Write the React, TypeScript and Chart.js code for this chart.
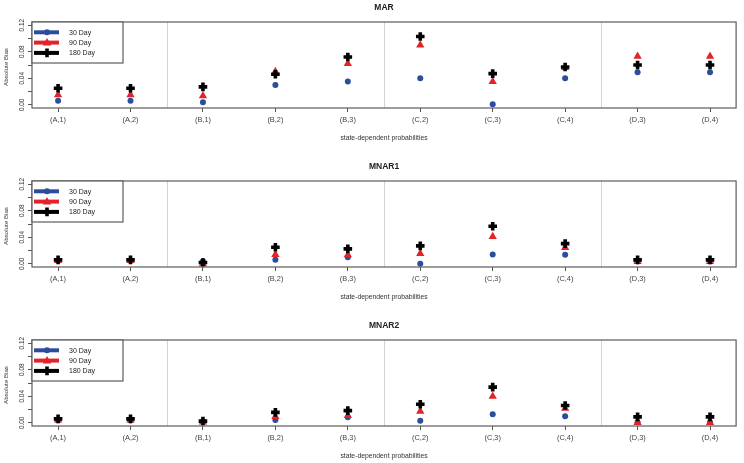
import React, { useEffect, useRef } from 'react';
import { Chart, registerables } from 'chart.js';
Chart.register(...registerables);

const categories = ['(A,1)', '(A,2)', '(B,1)', '(B,2)', '(B,3)', '(C,2)', '(C,3)', '(C,4)', '(D,3)', '(D,4)'];
const groupBreaks = [2.5, 5.5, 8.5];
const yTicks = [0, 0.02, 0.04, 0.06, 0.08, 0.1, 0.12];
const yTickLabels = ['0.00', '', '0.04', '', '0.08', '', '0.12'];
const seriesNames = ['30 Day', '90 Day', '180 Day'];
const panelTitles = ['MAR', 'MNAR1', 'MNAR2'];
const xAxisTitle = 'state-dependent probabilities';
const yAxisTitle = 'Absolute Bias';

const marDay30 = [0.006, 0.006, 0.004, 0.030, 0.035, 0.040, 0.001, 0.040, 0.049, 0.049];
const marDay90 = [0.015, 0.015, 0.0135, 0.050, 0.062, 0.090, 0.035, 0.056, 0.073, 0.073];
const marDay180 = [0.025, 0.025, 0.027, 0.046, 0.072, 0.103, 0.047, 0.057, 0.060, 0.060];

const mnar1Day30 = [0.005, 0.005, 0.004, 0.006, 0.010, 0.000, 0.014, 0.0135, 0.004, 0.004];
const mnar1Day90 = [0.005, 0.005, 0.000, 0.014, 0.0135, 0.0155, 0.041, 0.0245, 0.0035, 0.0035];
const mnar1Day180 = [0.006, 0.006, 0.002, 0.025, 0.0225, 0.027, 0.0565, 0.0305, 0.006, 0.006];

const mnar2Day30 = [0.004, 0.004, 0.002, 0.0044, 0.0084, 0.003, 0.0128, 0.0099, 0.001, 0.001];
const mnar2Day90 = [0.004, 0.004, 0.001, 0.0094, 0.011, 0.0173, 0.040, 0.0217, 0.0005, 0.0005];
const mnar2Day180 = [0.006, 0.006, 0.0025, 0.0158, 0.0183, 0.028, 0.0538, 0.026, 0.0089, 0.0089];

const panelSeries = [
  [marDay30, marDay90, marDay180],
  [mnar1Day30, mnar1Day90, mnar1Day180],
  [mnar2Day30, mnar2Day90, mnar2Day180],
];

const BLUE = '#2c4c9c';
const RED = '#e2232b';
const BLACK = '#000000';
const FONT = "'Liberation Sans', Arial, sans-serif";

function drawMarker(ctx: CanvasRenderingContext2D, kind: number, x: number, y: number) {
  ctx.save();
  if (kind === 0) {
    ctx.fillStyle = BLUE;
    ctx.beginPath();
    ctx.arc(x, y, 3, 0, Math.PI * 2);
    ctx.fill();
  } else if (kind === 1) {
    ctx.fillStyle = RED;
    ctx.beginPath();
    ctx.moveTo(x, y - 4.6);
    ctx.lineTo(x + 4.3, y + 3);
    ctx.lineTo(x - 4.3, y + 3);
    ctx.closePath();
    ctx.fill();
  } else {
    ctx.strokeStyle = BLACK;
    ctx.lineWidth = 3.6;
    ctx.beginPath();
    ctx.moveTo(x - 4.3, y);
    ctx.lineTo(x + 4.3, y);
    ctx.moveTo(x, y - 4.3);
    ctx.lineTo(x, y + 4.3);
    ctx.stroke();
  }
  ctx.restore();
}

function makePlugin(title: string) {
  return {
    id: 'rDecor',
    beforeDatasetsDraw(chart: any) {
      const { ctx, chartArea: a, scales } = chart;
      const x = scales.x;
      ctx.save();
      ctx.strokeStyle = '#d4d4d4';
      ctx.lineWidth = 1;
      groupBreaks.forEach((b) => {
        const px = Math.round(x.getPixelForValue(b)) + 0.5;
        ctx.beginPath();
        ctx.moveTo(px, a.top);
        ctx.lineTo(px, a.bottom);
        ctx.stroke();
      });
      ctx.restore();
    },
    afterDraw(chart: any) {
      const { ctx, chartArea: a, scales } = chart;
      const y = scales.y;
      ctx.save();
      ctx.strokeStyle = '#5c5c5c';
      ctx.lineWidth = 1.2;
      ctx.strokeRect(a.left, a.top, a.right - a.left, a.bottom - a.top);
      const cx = (a.left + a.right) / 2;
      ctx.fillStyle = '#222';
      ctx.textAlign = 'center';
      ctx.textBaseline = 'middle';
      ctx.font = `bold 8.5px ${FONT}`;
      ctx.fillText(title, cx, a.top - 14);
      ctx.fillStyle = '#333';
      ctx.font = `6.8px ${FONT}`;
      ctx.fillText(xAxisTitle, cx, a.bottom + 30);
      ctx.save();
      ctx.translate(6, (a.top + a.bottom) / 2 + 2);
      ctx.rotate(-Math.PI / 2);
      ctx.font = `6.2px ${FONT}`;
      ctx.fillText(yAxisTitle, 0, 0);
      ctx.restore();
      ctx.font = `6.4px ${FONT}`;
      yTicks.forEach((v, i) => {
        const lab = yTickLabels[i];
        if (!lab) return;
        const py = y.getPixelForValue(v);
        ctx.save();
        ctx.translate(22, py);
        ctx.rotate(-Math.PI / 2);
        ctx.fillText(lab, 0, 0);
        ctx.restore();
      });
      const lx = a.left, ly = a.top, lw = 91, lh = 41;
      ctx.fillStyle = '#fff';
      ctx.fillRect(lx, ly, lw, lh);
      ctx.strokeStyle = '#5c5c5c';
      ctx.lineWidth = 1.2;
      ctx.strokeRect(lx, ly, lw, lh);
      const colors = [BLUE, RED, BLACK];
      seriesNames.forEach((name, i) => {
        const yy = ly + 10.3 + i * 10.3;
        ctx.strokeStyle = colors[i];
        ctx.lineWidth = 4;
        ctx.beginPath();
        ctx.moveTo(lx + 2, yy);
        ctx.lineTo(lx + 27, yy);
        ctx.stroke();
        drawMarker(ctx, i, lx + 15, yy);
        ctx.fillStyle = '#222';
        ctx.textAlign = 'left';
        ctx.font = `7px ${FONT}`;
        ctx.fillText(name, lx + 37, yy + 0.5);
      });
      ctx.restore();
    },
  };
}

function Panel({ index, top, height }: { index: number; top: number; height: number }) {
  const ref = useRef<HTMLCanvasElement | null>(null);
  useEffect(() => {
    if (!ref.current) return;
    const series = panelSeries[index];
    const styles = [
      { pointStyle: 'circle', radius: 3, bg: BLUE, border: BLUE, bw: 0, order: 3 },
      { pointStyle: 'triangle', radius: 4.8, bg: RED, border: RED, bw: 0, order: 2 },
      { pointStyle: 'cross', radius: 4.3, bg: BLACK, border: BLACK, bw: 3.6, order: 1 },
    ];
    const chart = new Chart(ref.current, {
      type: 'line',
      data: {
        datasets: series.map((vals, si) => ({
          label: seriesNames[si],
          data: vals.map((v, ci) => ({ x: ci + 1, y: v })),
          showLine: false,
          pointStyle: styles[si].pointStyle as any,
          pointRadius: styles[si].radius,
          pointBackgroundColor: styles[si].bg,
          pointBorderColor: styles[si].border,
          pointBorderWidth: styles[si].bw,
          order: styles[si].order,
        })),
      },
      options: {
        animation: false,
        responsive: false,
        events: [],
        layout: { padding: { top: 22, right: 3, left: 0, bottom: 0 } },
        plugins: { legend: { display: false }, title: { display: false }, tooltip: { enabled: false } },
        scales: {
          x: {
            type: 'linear',
            min: 0.64,
            max: 10.36,
            afterBuildTicks: (s: any) => {
              s.ticks = categories.map((_, i) => ({ value: i + 1 }));
            },
            afterFit: (s: any) => {
              s.height = height - 108;
            },
            border: { display: false },
            grid: { drawOnChartArea: false, drawTicks: true, tickLength: 4, color: '#555', lineWidth: 1 },
            ticks: {
              autoSkip: false,
              maxRotation: 0,
              minRotation: 0,
              padding: 4,
              color: '#444',
              font: { family: FONT, size: 7.4 },
              callback: (v: any) => categories[Math.round(Number(v)) - 1] ?? '',
            },
          },
          y: {
            type: 'linear',
            min: -0.0048,
            max: 0.1248,
            afterBuildTicks: (s: any) => {
              s.ticks = yTicks.map((v) => ({ value: v }));
            },
            afterFit: (s: any) => {
              s.width = 32;
            },
            border: { display: false },
            grid: { drawOnChartArea: false, drawTicks: true, tickLength: 4, color: '#555', lineWidth: 1 },
            ticks: { callback: () => '', font: { size: 6 } },
          },
        },
      },
      plugins: [makePlugin(panelTitles[index]) as any],
    });
    return () => chart.destroy();
  }, [index, height]);
  return (
    <canvas
      ref={ref}
      width={744}
      height={height}
      style={{ position: 'absolute', left: 0, top, width: 744, height, display: 'block' }}
    />
  );
}

export default function App() {
  return (
    <div style={{ position: 'absolute', left: 0, top: 0, width: 744, height: 463, background: '#fff', overflow: 'hidden' }}>
      <Panel index={0} top={0} height={159} />
      <Panel index={1} top={159} height={159} />
      <Panel index={2} top={318} height={145} />
    </div>
  );
}
